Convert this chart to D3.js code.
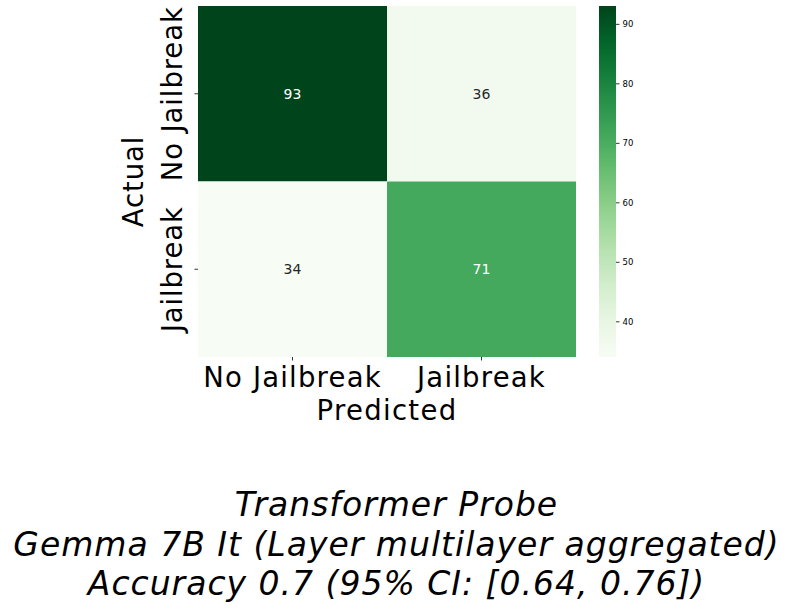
<!DOCTYPE html>
<html><head><meta charset="utf-8">
<script src="https://cdn.jsdelivr.net/npm/d3@7"></script>
<style>body{margin:0;background:#fff;} text{font-family:"DejaVu Sans",sans-serif;}</style>
</head><body>
<svg id="c" width="793" height="609"></svg>
<script>
const rowLabels = ["No Jailbreak", "Jailbreak"];
const colLabels = ["No Jailbreak", "Jailbreak"];
const values = [[93, 36], [34, 71]];
const cbarTicks = [40, 50, 60, 70, 80, 90];
const titleLines = ["Transformer Probe", "Gemma 7B It (Layer multilayer aggregated)", "Accuracy 0.7 (95% CI: [0.64, 0.76])"];

const svg = d3.select("#c");
const L = 198, R = 576, T = 6, B = 357;
const x = d3.scaleBand().domain(colLabels).range([L, R]);
const y = d3.scaleBand().domain(rowLabels).range([T, B]);
const flat = values.flat();
const vmin = d3.min(flat), vmax = d3.max(flat);
const color = d3.scaleSequential(d3.interpolateGreens).domain([vmin, vmax]);

const cells = [];
rowLabels.forEach((r, i) => colLabels.forEach((c, j) => cells.push({r, c, v: values[i][j]})));

svg.selectAll("rect.cell").data(cells).join("rect")
  .attr("x", d => x(d.c)).attr("y", d => y(d.r))
  .attr("width", x.bandwidth()).attr("height", y.bandwidth())
  .attr("fill", d => color(d.v));

function lum(c) {
  const o = d3.rgb(c);
  const f = v => { v /= 255; return v <= 0.03928 ? v / 12.92 : Math.pow((v + 0.055) / 1.055, 2.4); };
  return 0.2126 * f(o.r) + 0.7152 * f(o.g) + 0.0722 * f(o.b);
}
svg.selectAll("text.ann").data(cells).join("text")
  .attr("x", d => x(d.c) + x.bandwidth() / 2).attr("y", d => y(d.r) + y.bandwidth() / 2)
  .attr("text-anchor", "middle").attr("dominant-baseline", "central")
  .attr("font-size", 14).attr("fill", d => lum(color(d.v)) > 0.408 ? "#262626" : "#fff")
  .text(d => d.v);

// x axis
const xa = svg.append("g").attr("transform", `translate(0,${B})`)
  .call(d3.axisBottom(x).tickSize(3.5).tickFormat(""));
xa.select(".domain").remove();
xa.selectAll("line").attr("stroke", "#000").attr("stroke-width", 0.8);
svg.selectAll("text.xlab").data(colLabels).join("text")
  .attr("x", d => x(d) + x.bandwidth() / 2).attr("y", 387)
  .attr("text-anchor", "middle").attr("font-size", 27.5).attr("letter-spacing", "1.2px").attr("fill", "#000")
  .text(d => d);

// y axis
const ya = svg.append("g").attr("transform", `translate(${L},0)`)
  .call(d3.axisLeft(y).tickSize(3.5).tickFormat(""));
ya.select(".domain").remove();
ya.selectAll("line").attr("stroke", "#000").attr("stroke-width", 0.8);
svg.selectAll("text.ylab").data(rowLabels).join("text")
  .attr("transform", d => `translate(182,${y(d) + y.bandwidth() / 2}) rotate(-90)`)
  .attr("text-anchor", "middle").attr("font-size", 27.5).attr("letter-spacing", "0.9px").attr("fill", "#000")
  .text(d => d);

svg.append("text").attr("transform", `translate(${(L + R) / 2},420)`)
  .attr("text-anchor", "middle").attr("font-size", 27.5).attr("letter-spacing", "1.3px").text("Predicted");
svg.append("text").attr("transform", `translate(143,${(T + B) / 2}) rotate(-90)`)
  .attr("text-anchor", "middle").attr("font-size", 27.5).attr("letter-spacing", "0.9px").text("Actual");

// colorbar
const cbL = 599, cbW = 17;
const cy = d3.scaleLinear().domain([vmin, vmax]).range([B, T]);
const defs = svg.append("defs");
const grad = defs.append("linearGradient").attr("id", "g").attr("x1", 0).attr("y1", 1).attr("x2", 0).attr("y2", 0);
d3.range(0, 1.0001, 0.05).forEach(t => grad.append("stop").attr("offset", t).attr("stop-color", d3.interpolateGreens(t)));
svg.append("rect").attr("x", cbL).attr("y", T).attr("width", cbW).attr("height", B - T).attr("fill", "url(#g)");
const ca = svg.append("g").attr("transform", `translate(${cbL + cbW},0)`)
  .call(d3.axisRight(cy).tickValues(cbarTicks).tickSize(3.5).tickPadding(3));
ca.select(".domain").remove();
ca.selectAll("text").attr("font-size", 8.5).attr("fill", "#000").attr("font-family", "DejaVu Sans");
ca.selectAll("line").attr("stroke", "#000").attr("stroke-width", 0.8);

// title
svg.selectAll("text.title").data(titleLines).join("text")
  .attr("x", 396.5).attr("y", (d, i) => 516 + i * 39.5)
  .attr("text-anchor", "middle").attr("font-size", 33).attr("letter-spacing", "1px").attr("font-style", "italic").attr("fill", "#000")
  .text(d => d);
</script>
</body></html>
